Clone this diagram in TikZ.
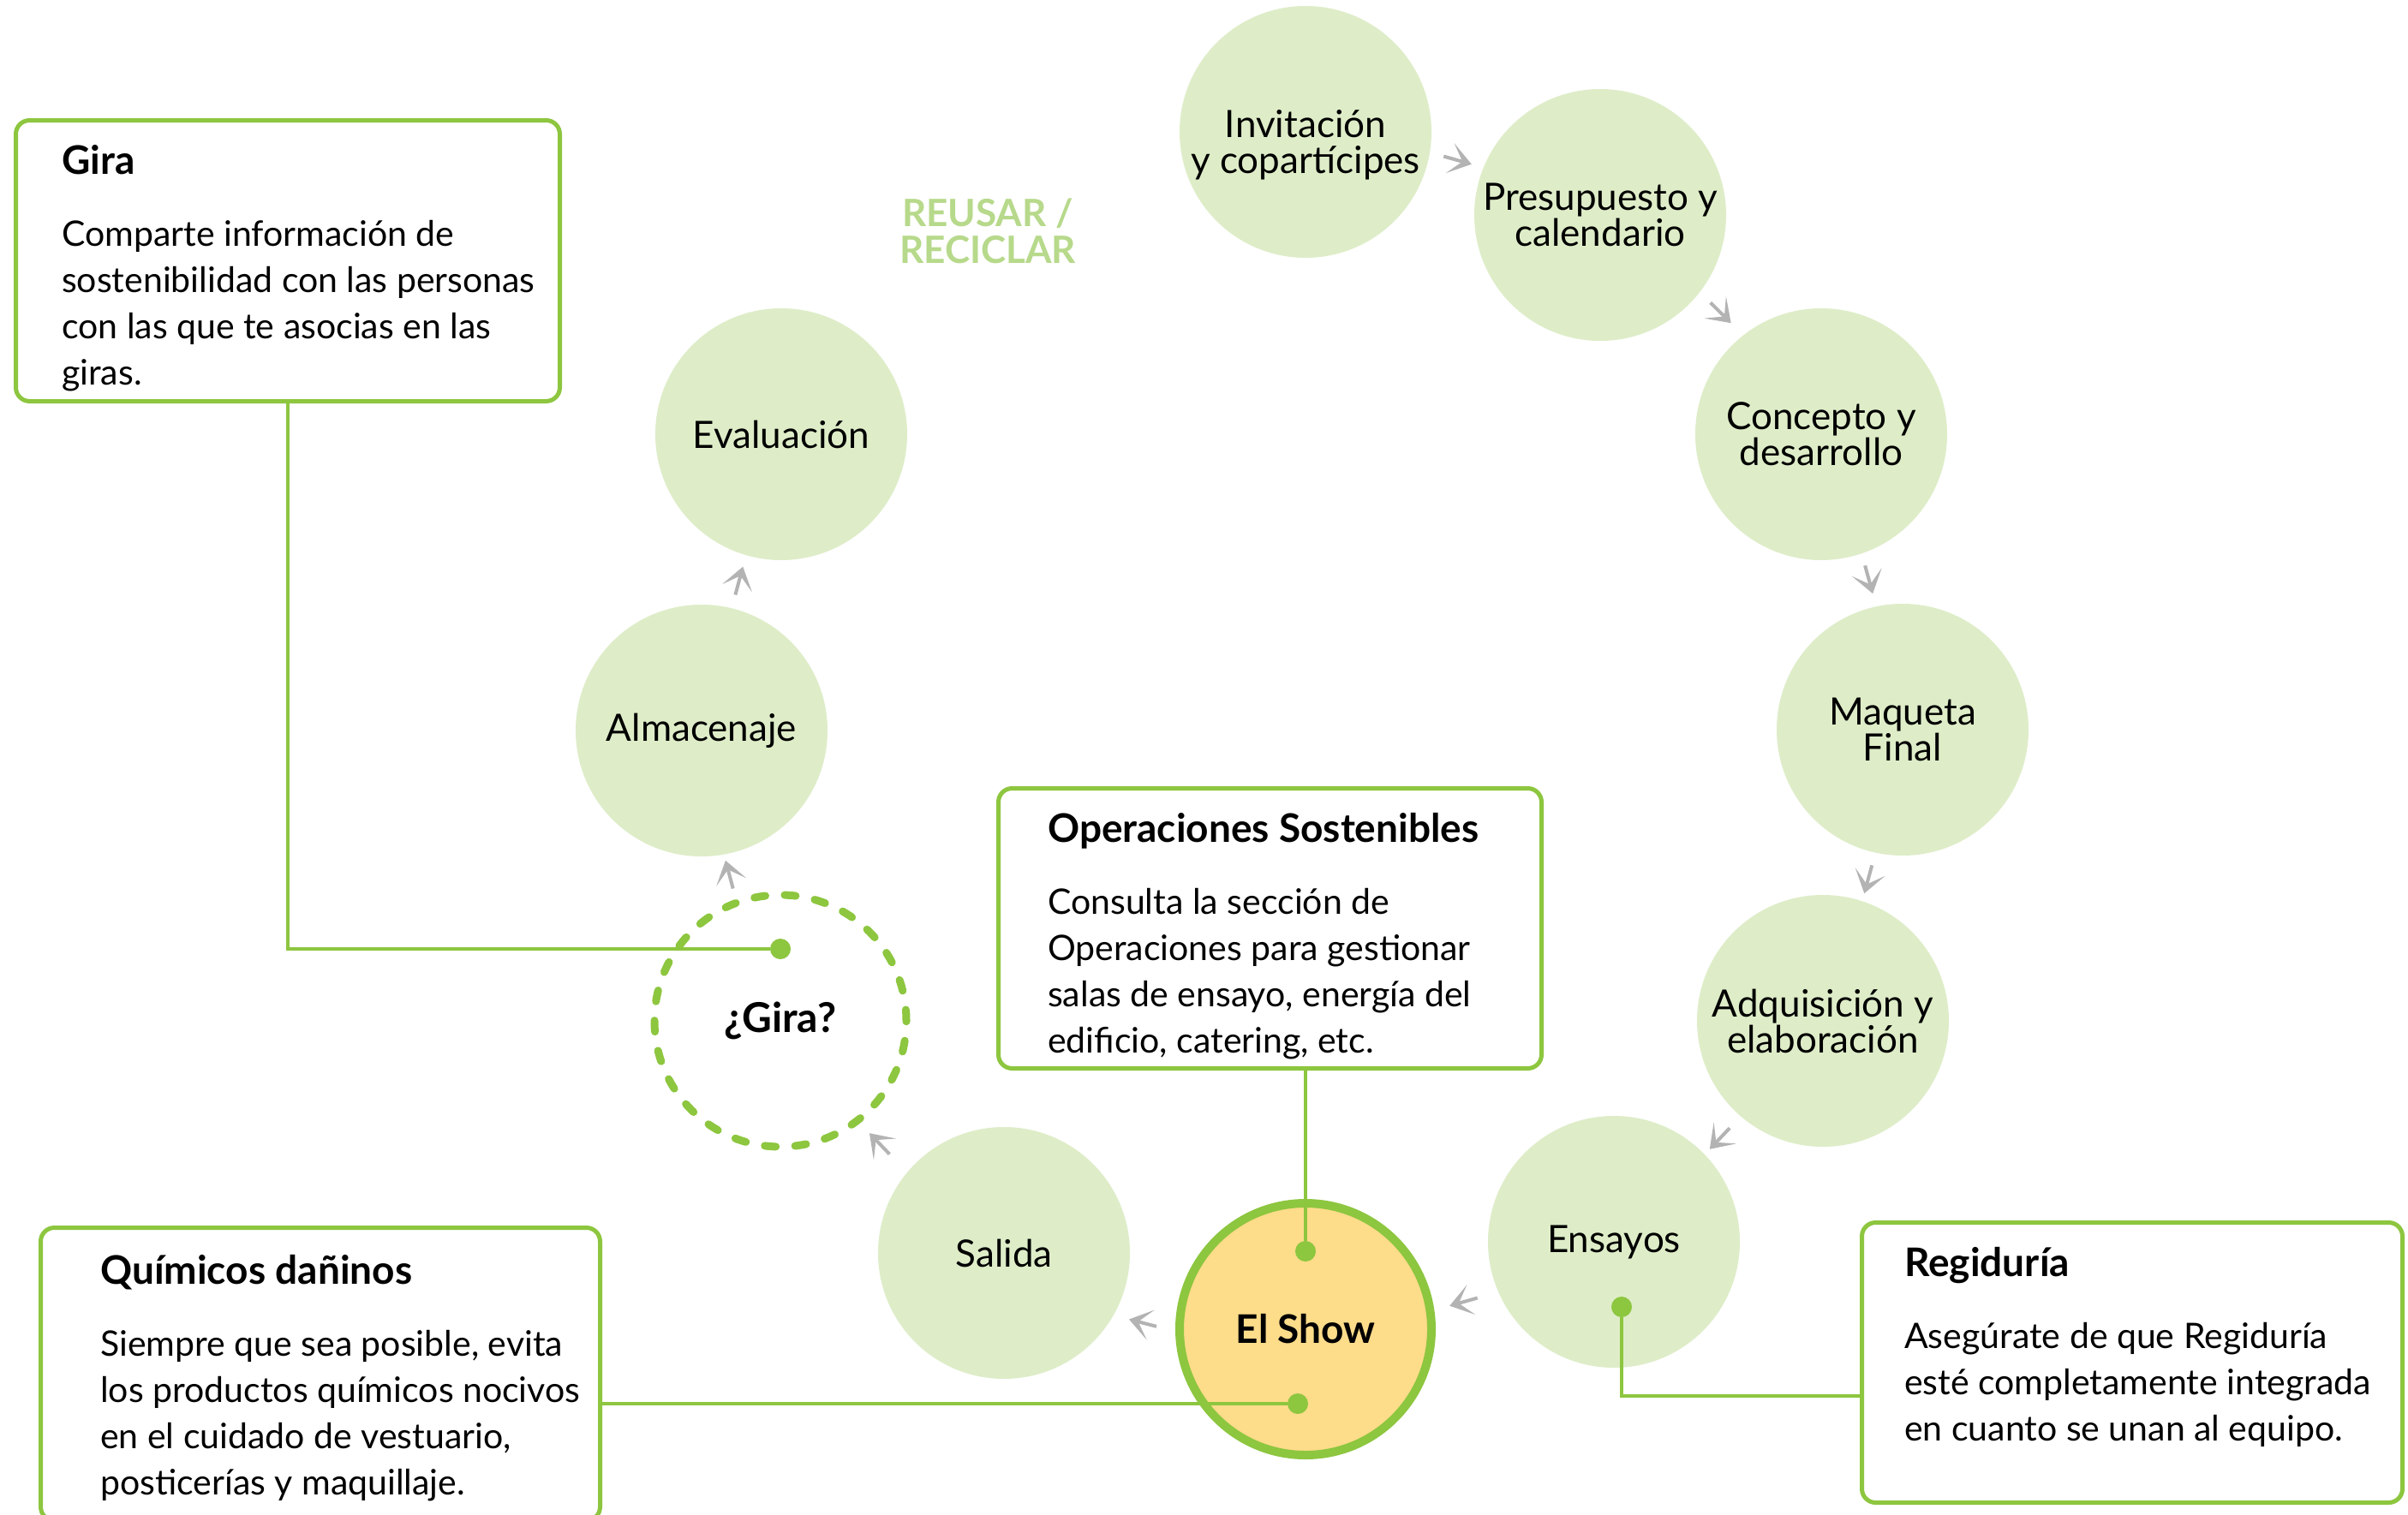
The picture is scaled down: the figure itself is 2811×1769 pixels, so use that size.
\documentclass[tikz,border=0pt]{standalone}
\usepackage{fontspec}
\setmainfont{Lato}
\usetikzlibrary{arrows.meta, positioning, calc}
\definecolor{verdeps}{RGB}{141,198,63}
\definecolor{verdeclaro}{RGB}{222,237,200}
\definecolor{amarillops}{RGB}{253,220,138}
\definecolor{grisflecha}{RGB}{179,179,179}
\definecolor{verdereusar}{RGB}{183,217,139}

\newcommand{\flecha}[3][0,0]{%
    \coordinate (medio) at ($(#2)!0.5!(#3)+(#1)$);
    \draw[flechita] ($(medio)!17pt!(#2)$) -- ($(medio)!17pt!(#3)$);}
\newcommand{\titulo}[1]{\textbf{\fontsize{46}{54}\selectfont #1}}

\begin{document}
\begin{tikzpicture}[x=1pt, y=-1pt,
        circulo/.style={circle, fill=verdeclaro, minimum size=294pt, inner sep=0pt, align=center,
                    font=\fontsize{44}{42}\selectfont},
        caja/.style={rectangle, rounded corners=16pt, draw=verdeps, line width=5pt, fill=white,
                    anchor=north west},
        nota/.style={anchor=north west, inner sep=0pt, align=left, font=\fontsize{41}{54}\selectfont},
        punto/.style={circle, fill=verdeps, minimum size=24pt, inner sep=0pt},
        enlace/.style={draw=verdeps, line width=4.5pt},
        flechita/.style={draw=grisflecha, line width=4pt,
                    -{Stealth[length=26pt, width=36pt, inset=15pt]}}
    ]
        \useasboundingbox[fill=white] (0,0) rectangle (2811,1769);

        \node[circulo, text height=105pt] (invitacion) at (1524,154) {Invitación\\y copartícipes};
        \node[circulo] (presupuesto) at (1868,251)  {Presupuesto y\\calendario};
        \node[circulo] (concepto)    at (2126,507)  {Concepto y\\desarrollo};
        \node[circulo] (maqueta)     at (2221,852)  {Maqueta\\Final};
        \node[circulo] (adquisicion) at (2128,1192) {Adquisición y\\elaboración};
        \node[circulo] (ensayos)     at (1884,1450) {Ensayos};
        \node[circulo, fill=amarillops, draw=verdeps, line width=10pt,
              font=\fontsize{46}{46}\selectfont\bfseries] (show) at (1524,1552) {El Show};
        \node[circulo] (salida)      at (1172,1463) {Salida};
        \node[circulo, fill=none, draw=verdeps, line width=9pt, line cap=round,
              dash pattern=on 13pt off 22.5pt,
              font=\fontsize{48}{48}\selectfont\bfseries] (gira) at (911,1192) {¿Gira?};
        \node[circulo] (almacenaje)  at (819,853)   {Almacenaje};
        \node[circulo] (evaluacion)  at (912,507)   {Evaluación};

        \node[font=\fontsize{44}{43}\selectfont\bfseries, text=verdereusar, align=center]
            (reusar) at (1153,270) {REUSAR /\\RECICLAR};

        \flecha[6,-17]{invitacion}{presupuesto}
        \flecha[13,-15]{presupuesto}{concepto}
        \flecha[9,-3]{concepto}{maqueta}
        \flecha[7,5]{maqueta}{adquisicion}
        \flecha[2,9]{adquisicion}{ensayos}
        \flecha[5,21]{ensayos}{show}
        \flecha[-15,41]{show}{salida}
        \flecha[-16,9]{salida}{gira}
        \flecha[-15,-1]{gira}{almacenaje}
        \flecha[-3,-2]{almacenaje}{evaluacion}

        \node[caja, minimum width=635pt, minimum height=328pt] (cajagira) at (16,138) {};
        \node[nota, below right=31pt and 56pt of cajagira.north west] (notagira)
            {\titulo{Gira}\\[30pt]Comparte información de\\
             sostenibilidad con las personas\\con las que te asocias en las\\giras.};

        \node[caja, minimum width=634pt, minimum height=327pt] (cajaops) at (1163,918) {};
        \node[nota, below right=31pt and 60pt of cajaops.north west] (notaops)
            {\titulo{Operaciones Sostenibles}\\[30pt]Consulta la sección de\\
             Operaciones para gestionar\\salas de ensayo, energía del\\edificio, catering, etc.};

        \node[caja, minimum width=653pt, minimum height=342pt] (cajaquim) at (45,1431) {};
        \node[nota, below right=34pt and 72pt of cajaquim.north west] (notaquim)
            {\titulo{Químicos dañinos}\\[30pt]Siempre que sea posible, evita\\
             los productos químicos nocivos\\en el cuidado de vestuario,\\posticerías y maquillaje.};

        \node[caja, minimum width=631pt, minimum height=327pt] (cajareg) at (2171,1425) {};
        \node[nota, below right=31pt and 52pt of cajareg.north west] (notareg)
            {\titulo{Regiduría}\\[30pt]Asegúrate de que Regiduría\\
             esté completamente integrada\\en cuanto se unan al equipo.};

        \node[punto] (puntogira)  at (911,1108)  {};
        \node[punto] (puntoops)   at (1524,1461) {};
        \node[punto] (puntoquim)  at (1515,1639) {};
        \node[punto] (puntoens)   at (1893,1526) {};
        \coordinate (codoreg) at (1893,1630);

        \draw[enlace] (cajagira.south) |- (puntogira);
        \draw[enlace] (cajaops.south -| puntoops) -- (puntoops);
        \draw[enlace] (cajaquim.east |- puntoquim) -- (puntoquim);
        \draw[enlace] (puntoens) -- (codoreg) -- (codoreg -| cajareg.west);
    \end{tikzpicture}
\end{document}
